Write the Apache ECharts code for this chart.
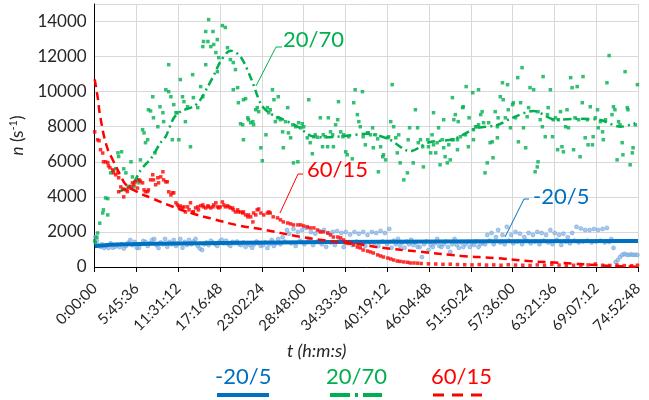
<!DOCTYPE html>
<html><head><meta charset="utf-8">
<script src="https://cdn.jsdelivr.net/npm/echarts@6/dist/echarts.min.js"></script>
<style>html,body{margin:0;padding:0;background:#fff}#c{width:649px;height:400px}</style>
</head><body><div id="c"></div>
<script>
// time in hours, value in s^-1
const xTickLabels = ['0:00:00','5:45:36','11:31:12','17:16:48','23:02:24','28:48:00','34:33:36','40:19:12','46:04:48','51:50:24','57:36:00','63:21:36','69:07:12','74:52:48'];
const yTicks = [0,2000,4000,6000,8000,10000,12000,14000];

const green2070 = [[0.0,1490],[0.1,1400],[0.3,1700],[0.4,1940],[0.7,2500],[1.1,3080],[1.2,3260],[1.5,3940],[1.8,3900],[1.8,2970],[2.2,5370],[2.5,5490],[2.9,5600],[3.2,6510],[3.3,6300],[3.7,6570],[4.0,5600],[4.3,5370],[4.6,4600],[5.0,6000],[5.2,5140],[5.4,4570],[5.9,4970],[6.1,4800],[6.3,6110],[6.6,7830],[6.8,7650],[7.0,7090],[7.3,7260],[7.4,8970],[7.7,8900],[8.0,9710],[8.1,8510],[8.3,6510],[8.7,8000],[9.0,9140],[9.4,8800],[9.5,8290],[9.8,10110],[10.2,11540],[10.2,10000],[10.5,9710],[10.7,7260],[10.9,9260],[11.2,8800],[11.4,8800],[11.6,7260],[11.8,10690],[12.1,9710],[12.3,9430],[12.5,8290],[12.8,9140],[13.2,6860],[13.5,10970],[13.6,9660],[14.2,9090],[14.6,10290],[14.9,9710],[15.3,11540],[15.6,12860],[15.7,14110],[16.0,12570],[16.4,12690],[16.7,12230],[16.9,12970],[17.1,11940],[14.9,12570],[15.0,12860],[15.3,13430],[16.3,13430],[16.9,11140],[17.6,13770],[18.0,13660],[18.3,12510],[18.7,11830],[19.1,11660],[19.4,11260],[19.1,10110],[19.7,10230],[19.8,9370],[20.1,8170],[20.4,8110],[20.5,9540],[20.8,9600],[21.1,8510],[21.2,8400],[21.5,8230],[21.8,8290],[21.9,8110],[20.5,7260],[22.2,8970],[22.4,9090],[22.6,8860],[22.9,6800],[23.1,6060],[23.6,7540],[23.8,9090],[24.0,8800],[24.2,8970],[24.5,10110],[24.7,9540],[24.9,8290],[25.2,8510],[25.3,9710],[25.6,8400],[25.9,7710],[26.0,6800],[26.3,8290],[26.6,9090],[26.7,7650],[27.0,7370],[27.3,8110],[27.4,5940],[27.7,8000],[28.0,6000],[28.1,8230],[28.4,7940],[28.6,8170],[28.8,8000],[29.3,7370],[29.5,9540],[29.7,7090],[30.0,6460],[30.2,7430],[30.4,7540],[30.7,7400],[31.1,8510],[31.4,6860],[31.5,7540],[31.8,7430],[32.1,6860],[32.2,8510],[32.5,7710],[32.8,7540],[32.9,6860],[33.2,8110],[33.5,8400],[33.6,9430],[33.9,7710],[34.2,7430],[34.3,7540],[34.6,6570],[34.8,6400],[35.0,7430],[35.5,6170],[35.7,9370],[35.9,10110],[36.2,8690],[36.4,8290],[36.6,8000],[36.9,10000],[37.0,7430],[37.3,6970],[37.6,7650],[37.7,7650],[38.0,7540],[38.3,7940],[38.4,6800],[38.7,7540],[39.0,7310],[39.1,5430],[39.4,6860],[39.7,6290],[39.8,6400],[40.1,6110],[40.4,7370],[40.5,7430],[40.8,8290],[41.0,10400],[41.2,8000],[41.5,7370],[41.7,6510],[41.9,7540],[42.1,5940],[42.6,4970],[43.1,5370],[43.2,7260],[43.4,7940],[43.9,5940],[44.2,8970],[44.5,7940],[44.6,7090],[44.9,7260],[45.2,6860],[45.3,5710],[45.9,7260],[46.0,6860],[46.3,6510],[46.5,7540],[46.7,6970],[46.7,8800],[47.0,6510],[47.2,7090],[47.4,7940],[47.6,5830],[47.9,7260],[48.1,8400],[48.1,6800],[48.3,6290],[48.6,5940],[48.8,6970],[49.0,6110],[49.3,7260],[49.3,9660],[49.4,7260],[49.5,8400],[49.7,8690],[50.0,6690],[50.0,7260],[50.1,8290],[50.4,7430],[50.7,9090],[50.8,9140],[51.1,7540],[51.2,10290],[51.5,6860],[51.6,8510],[52.1,9940],[52.2,7830],[52.2,7260],[52.5,8000],[52.7,8000],[52.9,8110],[52.9,10110],[53.2,8690],[53.4,8860],[53.6,8230],[53.8,5370],[54.1,5940],[54.3,8230],[54.5,7090],[54.8,7140],[54.9,6230],[55.2,8860],[55.5,7370],[55.5,8000],[55.6,8510],[55.9,9710],[56.2,10510],[56.3,9540],[56.6,8510],[56.9,10400],[57.0,8970],[57.3,7940],[57.6,9260],[57.7,9370],[58.0,8510],[58.3,10800],[58.4,7140],[58.7,9370],[58.9,11370],[59.1,7940],[59.4,6800],[59.6,8570],[59.8,9090],[60.0,10230],[60.5,10110],[60.7,5430],[61.0,5710],[61.1,6000],[61.1,8860],[61.4,8400],[61.7,8000],[61.8,10860],[62.1,7430],[62.4,8690],[62.5,9090],[62.8,10110],[63.1,7430],[63.2,8400],[63.5,8510],[63.8,6690],[63.9,8400],[64.2,8860],[64.4,6860],[64.6,6570],[64.9,8000],[65.1,8970],[65.3,7940],[65.6,10800],[65.8,10230],[66.0,6690],[66.2,8510],[66.5,10290],[66.7,8400],[66.9,6290],[67.2,9370],[67.3,10860],[67.6,7370],[67.9,8400],[68.0,6970],[68.3,9140],[68.6,6970],[68.7,7430],[69.0,8510],[69.3,8970],[69.4,7940],[69.7,8290],[70.0,7710],[70.1,7260],[70.4,8400],[70.6,10510],[70.9,12060],[71.3,8690],[71.5,9140],[71.7,8970],[72.0,6110],[72.2,8290],[72.4,8110],[72.7,7090],[72.8,6400],[73.1,11140],[73.4,9090],[73.5,8970],[73.8,5830],[74.1,6510],[74.2,6800],[74.5,8110],[74.8,10400]];

const green2070Trend = [[3.3,4300],[4.5,4500],[5.5,4900],[6.3,5500],[7.0,5850],[7.7,6150],[9.1,7100],[9.8,7450],[10.9,8500],[12.0,8900],[13.6,9150],[14.5,9500],[15.6,10300],[16.5,11000],[17.3,11700],[18.7,12340],[20.1,12000],[21.6,10700],[22.9,9300],[24.0,8800],[25.5,8500],[28.0,8000],[30.0,7450],[32.0,7400],[34.0,7450],[37.5,7600],[40.5,7300],[43.5,6600],[46.0,7100],[49.5,7300],[52.5,7900],[55.5,8100],[57.5,8500],[60.5,8900],[63.5,8400],[66.5,8450],[69.5,8400],[72.5,8000],[74.5,8200]];

const red6015 = [[0.0,7710],[0.4,7260],[0.6,7200],[0.8,6690],[1.1,6500],[1.2,6000],[1.5,6000],[1.8,5950],[1.9,5770],[2.1,5660],[2.5,5540],[2.6,5370],[2.9,5260],[3.2,5370],[3.3,5090],[3.3,4290],[3.6,4570],[3.9,4450],[4.0,4000],[4.3,4400],[4.5,4300],[4.7,4510],[5.0,4570],[5.2,4800],[5.4,4700],[5.6,4860],[5.9,4500],[6.1,4970],[6.3,4900],[6.6,4800],[6.8,4400],[7.0,4290],[7.3,4300],[7.4,4400],[7.7,4970],[8.0,5260],[8.1,4970],[8.4,4690],[8.7,5090],[8.8,4800],[9.1,5140],[9.4,5430],[9.5,4970],[9.8,4860],[10.0,4860],[10.2,4290],[10.5,4110],[10.7,4230],[10.9,4230],[11.2,3660],[11.4,3540],[11.6,3430],[11.8,3480],[12.1,3370],[12.3,3430],[12.5,3140],[12.8,3430],[13.0,3260],[13.2,3660],[13.5,3140],[13.6,3140],[13.9,3370],[14.2,3430],[14.3,3260],[14.6,3490],[14.9,3540],[15.0,3430],[15.3,3370],[15.6,3490],[15.7,3430],[16.0,3370],[16.3,3430],[16.4,3540],[16.7,3660],[16.9,3430],[17.1,3370],[17.3,3430],[17.6,3710],[17.8,3540],[18.0,3430],[18.3,3490],[18.5,3430],[18.7,3370],[19.0,3370],[19.1,3260],[19.4,3140],[19.7,3260],[19.8,3140],[20.1,3140],[20.4,3080],[20.5,3140],[20.8,2970],[21.1,2860],[21.2,2970],[21.5,2860],[21.8,2570],[21.9,3080],[22.2,2970],[22.4,3260],[22.6,3310],[22.9,3080],[23.3,2970],[23.8,3080],[24.0,3140],[24.2,3080],[24.6,2860],[25.2,2800],[25.6,2690],[26.0,2570],[26.6,2510],[27.0,2460],[27.4,2400],[28.0,2400],[28.4,2400],[28.8,2340],[29.3,2290],[29.7,2230],[30.2,2230],[30.7,2110],[31.1,2000],[31.5,2000],[32.1,1940],[32.5,1830],[32.9,1710],[33.5,1710],[33.9,1660],[34.3,1540],[34.8,1430],[35.3,1370],[35.7,1260],[36.2,1140],[36.6,1090],[37.0,970],[37.6,910],[38.0,860],[38.4,800],[39.0,690],[39.4,630],[39.8,570],[40.4,510],[40.8,460],[41.2,400],[41.7,340],[42.1,320],[42.6,290],[43.1,270],[43.5,230],[44.0,230],[44.5,220],[45.0,200],[46.0,180],[47.0,170],[48.0,150],[49.0,160],[50.0,140],[51.0,130],[52.0,120],[53.0,140],[54.0,110],[55.0,120],[56.0,100],[57.0,130],[58.0,110],[59.0,100],[60.0,90],[61.0,120],[62.0,100],[63.0,150],[64.0,110],[65.0,90],[66.0,100],[67.0,80],[68.0,120],[69.0,170],[70.0,100],[71.0,90],[72.0,110],[73.0,80],[74.0,70],[74.8,100]];

const red6015Trend = [[0.0,10700],[0.4,9700],[0.8,8500],[1.65,6900],[2.5,6100],[3.6,5200],[4.3,4700],[5.8,4300],[8.0,3900],[10.7,3450],[13.5,3050],[16.2,2750],[19.5,2400],[23.0,2150],[28.4,1720],[31.3,1540],[34.3,1370],[37.1,1260],[38.8,1140],[44.9,870],[50.6,630],[55.2,510],[59.8,340],[64.4,230],[69.1,110],[72.0,50],[74.88,20]];

const blueM205 = [[0.1,1710],[0.3,1500],[0.5,1250],[0.8,1150],[1.0,1300],[1.3,1090],[1.6,1200],[1.9,1090],[2.2,1350],[2.5,1100],[2.8,1150],[3.1,1250],[3.4,1140],[3.7,1300],[4.0,1050],[4.3,1200],[4.6,1380],[4.9,1540],[5.2,1250],[5.5,1430],[5.8,1100],[6.1,1090],[6.4,1300],[6.7,1480],[7.0,1430],[7.3,1200],[7.6,1350],[7.9,1540],[8.2,1600],[8.5,1250],[8.8,1090],[9.1,1400],[9.4,1300],[9.7,1600],[10.0,1150],[10.3,1430],[10.6,1300],[10.9,1540],[11.2,1200],[11.5,1350],[11.8,1600],[12.1,1100],[12.4,1430],[12.7,1250],[13.0,1540],[13.3,1300],[13.6,1450],[13.9,1600],[14.2,1200],[14.5,1050],[14.8,970],[15.1,1300],[15.4,1400],[15.7,1250],[16.0,1500],[16.3,1400],[16.6,1300],[16.9,1200],[17.2,1450],[17.5,1550],[17.8,1350],[18.1,1500],[18.4,1300],[18.7,1200],[19.0,1430],[19.3,1350],[19.6,1450],[19.9,1300],[20.2,1250],[20.5,1400],[20.8,1150],[21.1,1350],[21.4,1250],[21.7,1100],[22.0,1300],[22.3,1450],[22.6,1350],[22.9,1200],[23.2,1250],[23.5,1400],[23.8,1090],[24.1,1300],[24.4,1540],[24.7,1200],[25.0,1350],[25.3,1600],[25.6,1300],[25.9,1700],[26.2,1450],[26.5,2110],[26.8,1900],[27.1,1350],[27.4,2170],[27.7,1200],[28.0,2000],[28.3,1500],[28.6,2110],[28.9,1300],[29.2,2230],[29.5,1600],[29.8,2000],[30.1,1250],[30.4,1900],[30.7,1450],[31.0,2050],[31.3,1300],[31.6,2110],[31.9,1150],[32.2,1940],[32.5,1400],[32.8,2000],[33.1,1250],[33.4,2050],[33.7,1500],[34.0,1940],[34.3,1140],[34.6,2000],[34.9,1350],[35.2,1850],[35.5,1250],[35.8,2000],[36.1,1450],[36.4,1900],[36.7,1300],[37.0,2000],[37.3,1200],[37.6,1830],[37.9,1400],[38.2,2000],[38.5,1350],[38.8,1940],[39.1,1200],[39.4,2060],[39.7,1450],[40.0,1940],[40.3,1300],[40.6,2170],[40.9,1100],[41.2,1500],[41.5,1300],[41.8,1600],[42.1,1200],[42.4,1400],[42.7,1100],[43.0,1450],[43.3,1300],[43.6,1550],[43.9,1250],[44.2,1400],[44.5,1150],[44.8,1140],[45.1,570],[45.4,1300],[45.7,1450],[46.0,970],[46.3,1250],[46.6,1140],[46.9,1350],[47.2,1600],[47.5,1200],[47.8,1140],[48.1,1300],[48.4,1450],[48.7,1140],[49.0,860],[49.3,1300],[49.6,1600],[49.9,1250],[50.2,1090],[50.5,1400],[50.8,1140],[51.1,1300],[51.4,1430],[51.7,1140],[52.0,1350],[52.3,1260],[52.6,1450],[52.9,1140],[53.2,1300],[53.5,1400],[53.8,1300],[54.1,1830],[54.4,1500],[54.7,1940],[55.0,1300],[55.3,1710],[55.6,2110],[55.9,1400],[56.2,1830],[56.5,1300],[56.8,2290],[57.1,1500],[57.4,1830],[57.7,1350],[58.0,2000],[58.3,1450],[58.6,1900],[58.9,1300],[59.2,1710],[59.5,1500],[59.8,1940],[60.1,1350],[60.4,1830],[60.7,1450],[61.0,2000],[61.3,1300],[61.6,1940],[61.9,1500],[62.2,1830],[62.5,1400],[62.8,2110],[63.1,1300],[63.4,1940],[63.7,1540],[64.0,1830],[64.3,1260],[64.6,1900],[64.9,1450],[65.2,1700],[65.5,1350],[65.8,1940],[66.1,1500],[66.4,2290],[66.7,1400],[67.0,2200],[67.3,1450],[67.6,2110],[67.9,1500],[68.2,2110],[68.5,1400],[68.8,2170],[69.1,1450],[69.4,2110],[69.7,1500],[70.0,2170],[70.3,1400],[70.6,2230],[70.9,1430],[71.2,1600],[71.5,1090],[71.8,290],[72.1,400],[72.4,570],[72.7,690],[73.0,750],[73.3,700],[73.6,690],[73.9,720],[74.2,690],[74.5,700],[74.8,690]];

const blueM205Trend = [[0,1180],[1,1230],[3,1280],[8,1320],[15,1360],[25,1400],[40,1440],[55,1470],[74.88,1490]];

const toSec = arr => arr.map(p => [Math.round(p[0]*3600), p[1]]);
const STEP = 20736, XMAX = 269568;
const FONT = 'Lato';
const C_BLUE = '#0070C0', C_GREEN = '#00B050', C_RED = '#FF0000';

const chart = echarts.init(document.getElementById('c'), null, {renderer:'canvas'});
chart.setOption({
  animation:false,
  backgroundColor:'#fff',
  grid:{left:94,right:11,top:4,bottom:133,containLabel:false},
  xAxis:{type:'value',min:0,max:XMAX,interval:STEP,
    axisLine:{show:true,onZero:false,lineStyle:{color:'#000',width:1}},
    axisTick:{show:true,inside:false,length:5,lineStyle:{color:'#000'}},
    splitLine:{show:true,lineStyle:{color:'#d9d9d9',width:1}},
    axisLabel:{rotate:45,margin:19,fontFamily:FONT,fontSize:15,color:'#262626',
      formatter:v=>xTickLabels[Math.round(v/STEP)]||''}},
  yAxis:{type:'value',min:0,max:15000,interval:2000,
    axisLine:{show:true,lineStyle:{color:'#000',width:1}},
    axisTick:{show:false},
    splitLine:{show:true,lineStyle:{color:'#d9d9d9',width:1}},
    axisLabel:{showMaxLabel:false,margin:8,fontFamily:FONT,fontSize:17,color:'#262626',
      formatter:v=>yTicks.indexOf(v)>=0?String(v):''},
    name:'{i|n} (s{s|-1})',nameLocation:'middle',nameRotate:90,nameGap:62,
    nameTextStyle:{fontFamily:FONT,fontSize:17,color:'#262626',
      rich:{i:{fontFamily:FONT,fontSize:17,fontStyle:'italic',color:'#262626'},
            s:{fontFamily:FONT,fontSize:11,color:'#262626',padding:[0,0,9,0]}}}},
  series:[
    {type:'scatter',data:toSec(blueM205),symbol:'circle',symbolSize:4,z:1,silent:true,
      itemStyle:{color:'rgba(140,180,230,0.9)',borderColor:'#5b9bd5',borderWidth:0.6}},
    {type:'line',data:toSec(blueM205Trend),showSymbol:false,smooth:true,z:2,silent:true,
      lineStyle:{color:C_BLUE,width:4}},
    {type:'scatter',data:toSec(green2070),symbol:'rect',symbolSize:3.5,z:3,silent:true,
      itemStyle:{color:C_GREEN}},
    {type:'line',data:toSec(green2070Trend),showSymbol:false,smooth:0.3,z:4,silent:true,
      lineStyle:{color:C_GREEN,width:2.5,type:[8,4,2,4]}},
    {type:'scatter',data:toSec(red6015),symbol:'rect',symbolSize:3.5,z:5,silent:true,
      itemStyle:{color:C_RED}},
    {type:'line',data:toSec(red6015Trend),showSymbol:false,smooth:true,z:6,silent:true,
      lineStyle:{color:C_RED,width:2.5,type:[8,5]}}
  ],
  graphic:[
    {type:'text',left:287,top:342,style:{text:'t (h:m:s)',fontFamily:FONT,fontSize:18,fontStyle:'italic',fill:'#262626'}},
    // callouts
    {type:'polyline',shape:{points:[[256,86],[276,47],[282,47]]},style:{stroke:C_GREEN,lineWidth:1,fill:null},z:20},
    {type:'text',left:283,top:29,style:{text:'20/70',fontFamily:FONT,fontSize:22,fill:C_GREEN},z:20},
    {type:'polyline',shape:{points:[[280,213],[298,174],[303,174]]},style:{stroke:C_RED,lineWidth:1,fill:null},z:20},
    {type:'text',left:307,top:159,style:{text:'60/15',fontFamily:FONT,fontSize:22,fill:C_RED},z:20},
    {type:'polyline',shape:{points:[[505,237],[524,199],[529,199]]},style:{stroke:C_BLUE,lineWidth:1,fill:null},z:20},
    {type:'text',left:533,top:186,style:{text:'-20/5',fontFamily:FONT,fontSize:22,fill:C_BLUE},z:20},
    // legend
    {type:'text',left:215,top:366,style:{text:'-20/5',fontFamily:FONT,fontSize:22,fill:C_BLUE}},
    {type:'line',shape:{x1:217,y1:395,x2:269,y2:395},style:{stroke:C_BLUE,lineWidth:4}},
    {type:'text',left:326,top:366,style:{text:'20/70',fontFamily:FONT,fontSize:22,fill:C_GREEN}},
    {type:'line',shape:{x1:330,y1:395,x2:382,y2:395},style:{stroke:C_GREEN,lineWidth:4,lineDash:[20,5,3,5]}},
    {type:'text',left:431,top:366,style:{text:'60/15',fontFamily:FONT,fontSize:22,fill:C_RED}},
    {type:'line',shape:{x1:433,y1:395,x2:482,y2:395},style:{stroke:C_RED,lineWidth:3,lineDash:[11,8]}}
  ]
});
</script></body></html>
